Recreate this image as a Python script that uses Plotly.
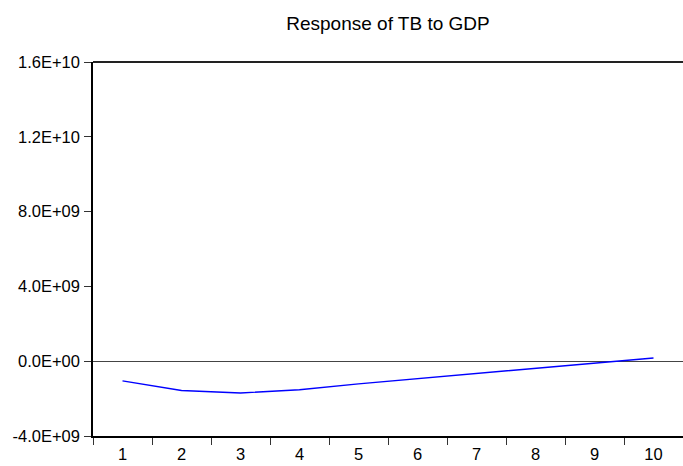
import plotly.graph_objects as go

periods = ["1", "2", "3", "4", "5", "6", "7", "8", "9", "10"]
response = [-1.05e9, -1.57e9, -1.70e9, -1.53e9, -1.21e9, -0.93e9, -0.64e9, -0.36e9, -0.09e9, 0.17e9]
y_tick_vals = [-4e9, 0, 4e9, 8e9, 1.2e10, 1.6e10]
y_tick_text = ["-4.0E+09", "0.0E+00", "4.0E+09", "8.0E+09", "1.2E+10", "1.6E+10"]

fig = go.Figure()
fig.add_trace(go.Scatter(
    x=periods, y=response, mode="lines",
    line=dict(color="#0000ff", width=1.4),
    showlegend=False, hoverinfo="skip",
))

fig.update_layout(
    width=683, height=466,
    margin=dict(l=93, r=0, t=62, b=30),
    paper_bgcolor="white", plot_bgcolor="white",
    font=dict(family="Liberation Sans, Arial, sans-serif", size=15, color="black"),
    title=dict(text="Response of TB to GDP", x=0.5, xref="paper", xanchor="center",
               y=1 - 23 / 466, yref="container", yanchor="middle",
               font=dict(size=19, color="black")),
    xaxis=dict(type="category", tickson="boundaries", ticks="outside", ticklen=7,
               tickcolor="#333", showline=True, linecolor="black", linewidth=1.5,
               showgrid=False, zeroline=False, range=[-0.5, 9.5],
               tickfont=dict(size=16.5), ticklabelstandoff=2),
    yaxis=dict(range=[-4e9, 1.6e10], tickvals=y_tick_vals, ticktext=y_tick_text,
               ticks="outside", ticklen=7, tickcolor="#333", showline=True,
               linecolor="black", linewidth=1.5, showgrid=False,
               tickfont=dict(size=16.5), ticklabelstandoff=1,
               zeroline=True, zerolinecolor="#444", zerolinewidth=1.2),
    shapes=[dict(type="line", xref="paper", yref="paper", x0=0, x1=1, y0=1, y1=1,
                 line=dict(color="#222", width=1.8))],
)

fig.write_html("out.html")
